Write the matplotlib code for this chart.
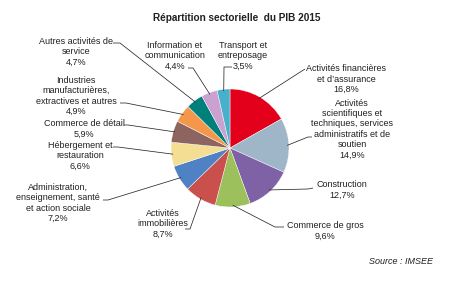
import numpy as np
from matplotlib import pyplot as plt

# sector shares of GDP 2015 (%), clockwise from 12 o'clock
sectors = [
    "Activités financières\net d\u2019assurance",
    "Activités\nscientifiques et\ntechniques, services\nadministratifs et de\nsoutien",
    "Construction",
    "Commerce de gros",
    "Activités\nimmobilières",
    "Administration,\nenseignement, santé\net action sociale",
    "Hébergement et\nrestauration",
    "Commerce de détail",
    "Industries\nmanufacturières,\nextractives et autres",
    "Autres activités de\nservice",
    "Information et\ncommunication",
    "Transport et\nentreposage",
]
shares = [16.8, 14.9, 12.7, 9.6, 8.7, 7.2, 6.6, 5.9, 4.9, 4.7, 4.4, 3.5]
colors = ["#e2001a", "#9fb6c9", "#7f62a6", "#9cc05b", "#c9504c", "#4f82c4",
          "#f3de94", "#8e6461", "#f5974a", "#00807b", "#cba1d2", "#49b0cb"]

# layout in pixel coords (x, y from top): label centre, leader start, knee
label_xy = [(346, 79), (352, 129), (342, 190), (325, 231), (163, 224), (58, 203),
            (80, 156), (84, 129), (76, 96), (76, 52), (175, 56), (243, 56)]
leader_start = [(305, 69), (312, 137), (313, 188), (284, 227), (185, 229), (103, 200),
                (113, 147), (124, 125), (120, 103), (113, 43), (188, 68), (232, 67)]
leader_knee = [(305, 69), (308, 137), (308, 189), (275, 227), (190, 229), (108, 200),
               (118, 147), (128, 125), (126, 103), (120, 43), (193, 68), (224, 67)]

W, H = 470, 290
CX, CY, R = 230, 148, 59

plt.rcParams['font.family'] = ['Liberation Sans', 'DejaVu Sans']
txt = "#231f20"

fig = plt.figure(figsize=(4.7, 2.9), dpi=100)
ax = fig.add_axes([0, 0, 1, 1])

wedges, _ = ax.pie(shares, colors=colors, startangle=90, counterclock=False,
                   center=(CX, H - CY), radius=R, frame=True,
                   wedgeprops=dict(linewidth=0.3, edgecolor="white"))

for w, name, v, (lx, ly), (sx, sy), (kx, ky) in zip(
        wedges, sectors, shares, label_xy, leader_start, leader_knee):
    mid = np.deg2rad((w.theta1 + w.theta2) / 2)
    px = CX + 0.97 * R * np.cos(mid)
    py = (H - CY) + 0.97 * R * np.sin(mid)
    ax.plot([px, kx, sx], [py, H - ky, H - sy], color="#2a2a2a", lw=0.55,
            solid_capstyle="butt")
    label = name + "\n" + "{:.1f}%".format(v).replace(".", ",")
    ax.text(lx, H - ly, label, ha="center", va="center", fontsize=6.5,
            color=txt, linespacing=1.2)

ax.text(237, H - 18, "Répartition sectorielle  du PIB 2015", ha="center",
        va="center", fontsize=7.2, fontweight="bold", color=txt)
ax.text(433, H - 261, "Source : IMSEE", ha="right", va="center", fontsize=6.5,
        style="italic", color=txt)

ax.set_xlim(0, W)
ax.set_ylim(0, H)
ax.set_aspect("equal")
ax.axis("off")

plt.savefig("out.png", dpi=100)
